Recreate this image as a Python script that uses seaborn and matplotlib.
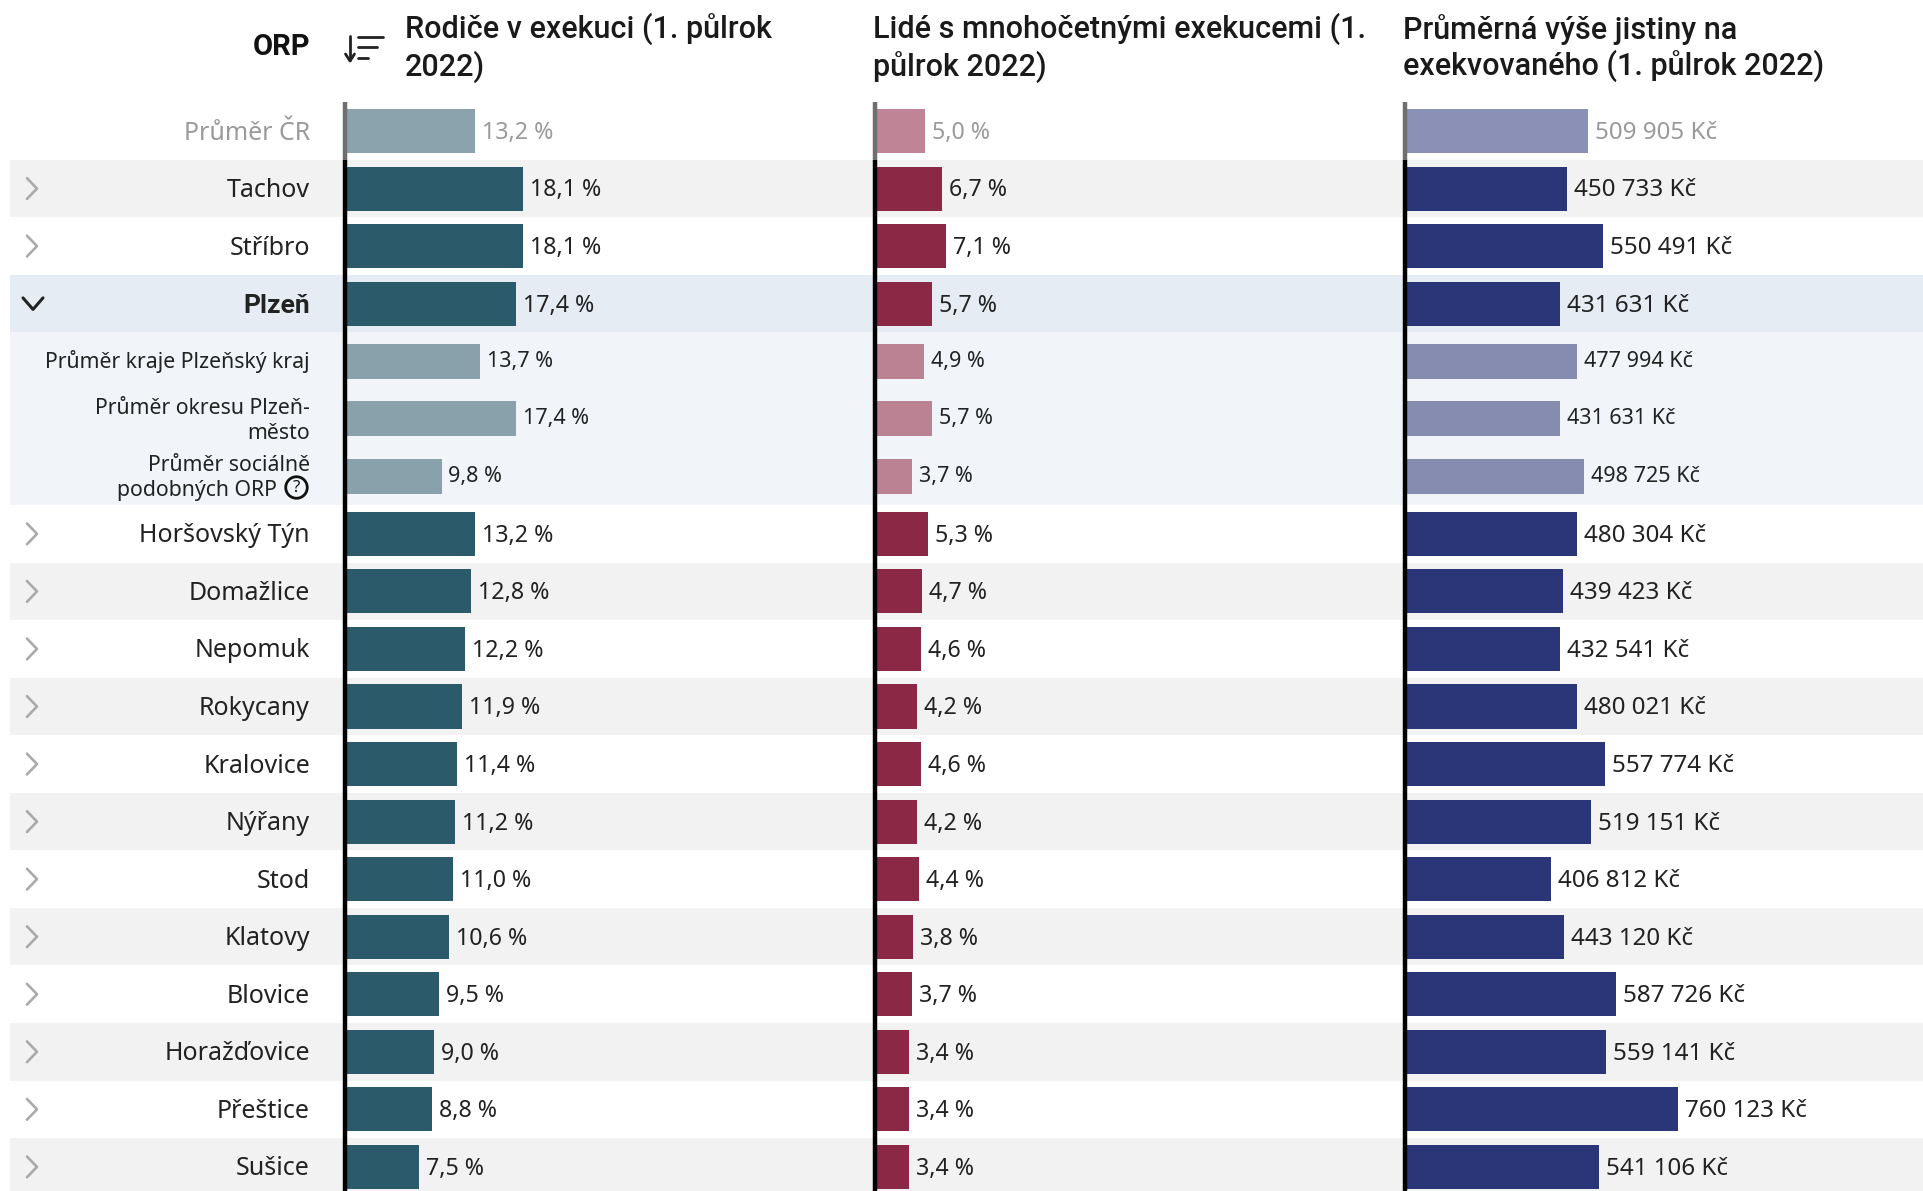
import matplotlib
matplotlib.use("Agg")
import matplotlib.pyplot as plt
import numpy as np
import pandas as pd
import seaborn as sns

sns.set_theme(style="white")
plt.rcParams["font.family"] = ["Noto Sans", "DejaVu Sans"]

W, H = 1924, 1191
TOP, ROW_H, FIRST_C = 102.0, 57.55, 131.0

rows = ["Průměr ČR", "Tachov", "Stříbro", "Plzeň", "Průměr kraje Plzeňský kraj",
        "Průměr okresu Plzeň-\nměsto", "Průměr sociálně\npodobných ORP", "Horšovský Týn",
        "Domažlice", "Nepomuk", "Rokycany", "Kralovice", "Nýřany", "Stod", "Klatovy",
        "Blovice", "Horažďovice", "Přeštice", "Sušice"]
kinds = ["avg", "main", "main", "main", "sub", "sub", "sub"] + ["main"] * 12
parents = [13.2, 18.1, 18.1, 17.4, 13.7, 17.4, 9.8, 13.2, 12.8, 12.2, 11.9,
           11.4, 11.2, 11.0, 10.6, 9.5, 9.0, 8.8, 7.5]
multiple = [5.0, 6.7, 7.1, 5.7, 4.9, 5.7, 3.7, 5.3, 4.7, 4.6, 4.2, 4.6, 4.2, 4.4, 3.8,
            3.7, 3.4, 3.4, 3.4]
principal = [509905, 450733, 550491, 431631, 477994, 431631, 498725, 480304, 439423,
             432541, 480021, 557774, 519151, 406812, 443120, 587726, 559141, 760123, 541106]
titles = ["Rodiče v exekuci (1. půlrok\n2022)",
          "Lidé s mnohočetnými exekucemi (1.\npůlrok 2022)",
          "Průměrná výše jistiny na\nexekvovaného (1. půlrok 2022)"]

df = pd.DataFrame({"row": rows, "kind": kinds, "parents": parents,
                   "multiple": multiple, "principal": principal})


def pct(v):
    return f"{v:.1f} %".replace(".", ",")


def czk(v):
    return f"{v:,.0f}".replace(",", " ") + " Kč"


cols = [
    dict(col="parents", left=345, right=874, scale=9.85, fmt=pct, tx=405, fs=16.7,
         main="#2b5b6b", avg="#8aa3ad", sub="#88a1ab"),
    dict(col="multiple", left=875, right=1405, scale=10.0, fmt=pct, tx=873, fs=16.7,
         main="#8b2846", avg="#bf8596", sub="#bb8294"),
    dict(col="principal", left=1405, right=1924, scale=0.000359, fmt=czk, tx=1403, fs=17.4,
         main="#2b3679", avg="#8b91b6", sub="#868cb0"),
]

fig = plt.figure(figsize=(W / 100, H / 100), dpi=100, facecolor="white")
y_top = (TOP - FIRST_C) / ROW_H
y_bot = (H - FIRST_C) / ROW_H


def add_ax(x0, x1):
    a = fig.add_axes([x0 / W, 0, (x1 - x0) / W, (H - TOP) / H])
    a.set_facecolor("none")
    return a


# background bands + row labels
bg = add_ax(0, W)
bg.set_xlim(0, W)
bg.set_ylim(y_bot, y_top)
bg.axis("off")
grey_rows = ["Tachov", "Domažlice", "Rokycany", "Nýřany", "Klatovy", "Horažďovice", "Sušice"]
for i, (r, k) in enumerate(zip(rows, kinds)):
    if r in grey_rows:
        c = "#f2f2f2"
    elif r == "Plzeň":
        c = "#e5ecf3"
    elif k == "sub":
        c = "#f1f5f9"
    else:
        continue
    bg.axhspan(i - .5, i + .5, xmin=10 / W, xmax=1, color=c, lw=0, zorder=0)

for i, (r, k) in enumerate(zip(rows, kinds)):
    size = 18 if k != "sub" else 15.3
    color = "#222222" if k != "avg" else "#9a9a9a"
    fam = ["Roboto", "Noto Sans"] if r == "Plzeň" else ["Noto Sans", "DejaVu Sans"]
    weight = "bold" if r == "Plzeň" else "normal"
    if r == "Plzeň":
        size = 19
    lines = r.split("\n")
    for j, line in enumerate(lines):
        base = 0.035 if k != "sub" or len(lines) > 1 else 0.0
        dy = (j - (len(lines) - 1) / 2) * 0.43 + base
        right = 277 if line.endswith("ORP") else 310
        bg.text(right, i + dy, line, ha="right", va="center", fontsize=size, color=color,
                family=fam, fontweight=weight, zorder=3)
    if k == "main":
        if r == "Plzeň":
            bg.plot([23, 33, 43], [i - .1, i + .1, i - .1], color="#222222", lw=2.2,
                    solid_capstyle="round", zorder=3)
        else:
            bg.plot([27, 37, 27], [i - .18, i, i + .18], color="#aaaaaa", lw=1.9,
                    solid_capstyle="round", zorder=3)

# bars
for idx, c in enumerate(cols):
    ax = add_ax(c["left"], c["right"])
    for kind, width in (("avg", 0.765), ("main", 0.765), ("sub", 0.608)):
        sub = df[df["kind"] == kind]
        sns.barplot(data=sub, x=c["col"], y="row", order=rows, orient="h", ax=ax,
                    color=c[kind], saturation=1, width=width, errorbar=None,
                    linewidth=0, zorder=2)
    txt = {"avg": ("#9a9a9a", c["fs"]), "main": ("#222222", c["fs"]), "sub": ("#222222", 15.5)}
    for cont, kind in zip(ax.containers, ("avg", "main", "sub")):
        labs = ax.bar_label(cont, fmt=c["fmt"], padding=5, color=txt[kind][0],
                            fontsize=txt[kind][1])
        for lab in labs:
            lab.xyann = (lab.xyann[0], -1.4 if kind != "sub" else 0)
    ax.set_xlim(0, (c["right"] - c["left"]) / c["scale"])
    ax.set_ylim(y_bot, y_top)
    ax.axis("off")
    ax.vlines(0, 0.5, y_bot, color="#000000", lw=3.2, zorder=4, clip_on=False)
    ax.vlines(0, y_top, 0.5, color="#6f6f6f", lw=3.2, zorder=4, clip_on=False)
    fig.text(c["tx"] / W, 1 - 48 / H, titles[idx], ha="left", va="center", fontsize=22,
             color="#1a1a1a", family=["Roboto", "Noto Sans"], fontweight="medium",
             linespacing=1.2)

fig.text(310 / W, 1 - 47 / H, "ORP", ha="right", va="center", fontsize=21,
         color="#111111", family=["Roboto", "Noto Sans"], fontweight="bold")

# header sort icon & help icon in figure pixel coords
ov = fig.add_axes([0, 0, 1, 1])
ov.set_xlim(0, W)
ov.set_ylim(H, 0)
ov.axis("off")
ov.set_facecolor("none")
for x1, y in ((383, 37), (377, 47), (368, 58)):
    ov.plot([358, x1], [y, y], color="#222222", lw=2)
ov.plot([350, 350], [36, 60], color="#222222", lw=2)
ov.plot([345.5, 350, 354.5], [54, 61, 54], color="#222222", lw=2)
ov.plot([296], [487], marker="o", ms=15.5, mfc="none", mec="#111111", mew=2)
ov.text(296, 487.5, "?", ha="center", va="center", fontsize=12, color="#111111",
        fontweight="bold")

fig.savefig("out.png", dpi=100)
